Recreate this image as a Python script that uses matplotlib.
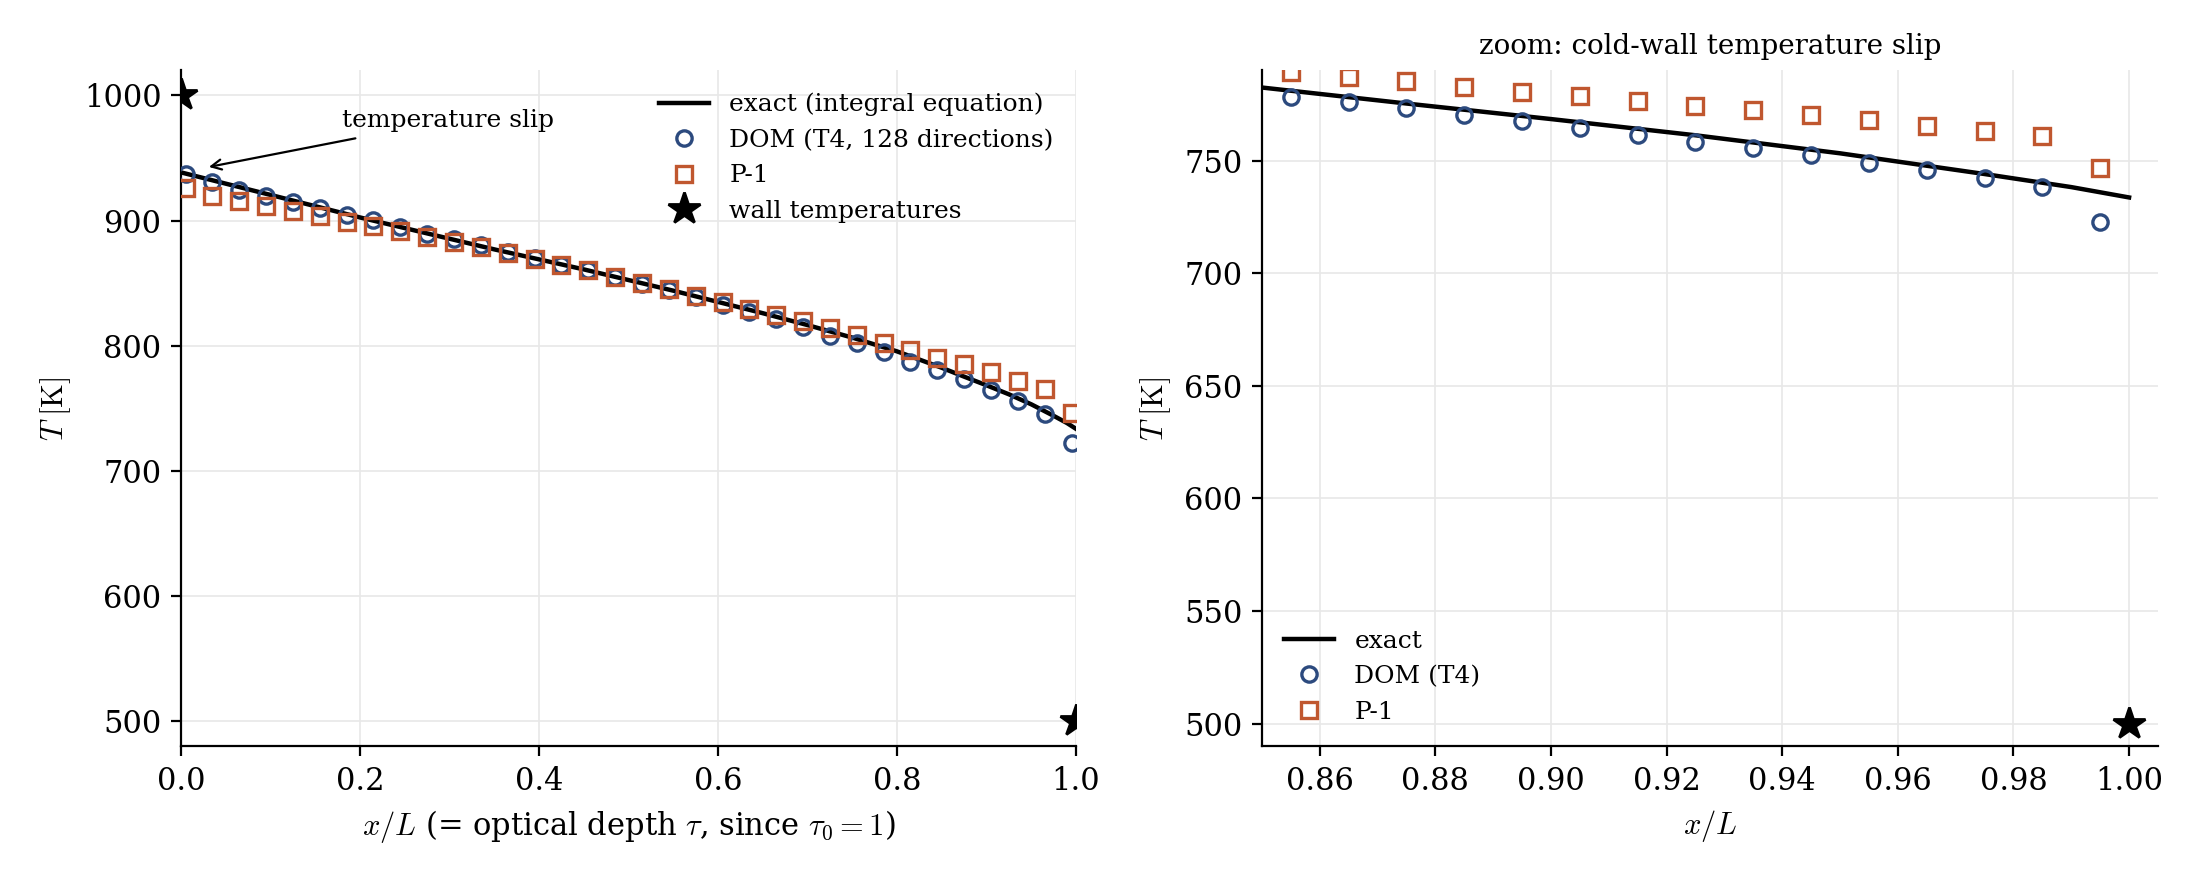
import matplotlib
matplotlib.use("Agg")
import matplotlib.pyplot as plt

plt.rcParams['font.family'] = ['DejaVu Serif']
plt.rcParams['mathtext.fontset'] = 'cm'

# ---------------- data ----------------
# exact solution (integral equation)
x_exact = [0.00, 0.05, 0.10, 0.15, 0.20, 0.25, 0.30, 0.35, 0.40, 0.45, 0.50,
           0.55, 0.60, 0.65, 0.70, 0.75, 0.80, 0.85, 0.875, 0.90, 0.925,
           0.95, 0.975, 0.99, 1.00]
T_exact = [938.5, 929.5, 920.5, 911.5, 902.5, 894.0, 885.5, 877.0, 869.0,
           861.0, 852.5, 844.0, 835.0, 826.0, 816.5, 806.5, 795.5, 782.4,
           775.3, 768.4, 761.2, 753.2, 744.0, 738.2, 733.6]

# full-domain markers (every third cell centre)
x_cells = [0.005, 0.035, 0.065, 0.095, 0.125, 0.155, 0.185, 0.215, 0.245,
           0.275, 0.305, 0.335, 0.365, 0.395, 0.425, 0.455, 0.485, 0.515,
           0.545, 0.575, 0.605, 0.635, 0.665, 0.695, 0.725, 0.755, 0.785,
           0.815, 0.845, 0.875, 0.905, 0.935, 0.965, 0.995]
T_dom = [937.4, 930.7, 924.8, 920.0, 915.2, 910.2, 904.8, 900.3, 894.7,
         889.4, 885.4, 880.6, 875.0, 869.8, 864.8, 860.2, 855.0, 849.6,
         844.6, 838.7, 832.8, 826.7, 821.2, 814.7, 808.0, 801.8, 794.7,
         787.2, 780.6, 773.2, 764.6, 755.5, 745.6, 722.6]
T_p1 = [925.9, 920.0, 916.0, 912.0, 908.0, 904.0, 899.2, 895.5, 891.5,
        887.2, 883.2, 878.7, 873.9, 869.4, 864.6, 860.2, 855.3, 850.1,
        845.2, 840.0, 835.0, 829.7, 824.7, 819.4, 814.0, 808.3, 802.2,
        796.6, 789.9, 785.1, 778.7, 772.2, 765.5, 746.6]

# zoom-panel markers (every cell near the cold wall)
x_zoom = [0.855, 0.865, 0.875, 0.885, 0.895, 0.905, 0.915, 0.925, 0.935,
          0.945, 0.955, 0.965, 0.975, 0.985, 0.995]
T_dom_zoom = [778.4, 775.9, 773.2, 770.4, 767.4, 764.6, 761.5, 758.4, 755.5,
              752.4, 749.1, 745.6, 742.1, 738.3, 722.6]
T_p1_zoom = [789.1, 787.1, 785.1, 782.8, 780.6, 778.7, 776.6, 774.4, 772.2,
             770.0, 767.8, 765.5, 763.3, 760.7, 746.6]

x_walls = [0.0, 1.0]
T_walls = [1000.0, 500.0]

# ---------------- style ----------------
C_DOM = '#2c4a7e'
C_P1 = '#c0572f'
GRID = dict(color='#e8e8e8', linewidth=0.6)

fig = plt.figure(figsize=(11, 4.4), dpi=200)
ax1 = fig.add_axes([0.0823, 0.152, 0.4068, 0.768])
ax2 = fig.add_axes([0.5736, 0.152, 0.4073, 0.768])

for ax in (ax1, ax2):
    ax.spines['top'].set_visible(False)
    ax.spines['right'].set_visible(False)
    ax.grid(True, **GRID)
    ax.set_axisbelow(True)
    ax.tick_params(labelsize=11)

MK = dict(ls='none', ms=5.5, mfc='none', mew=1.2, zorder=4)

# left panel
ax1.plot(x_exact, T_exact, color='black', lw=1.6, label='exact (integral equation)', zorder=3)
ax1.plot(x_cells, T_dom, marker='o', mec=C_DOM, label='DOM (T4, 128 directions)', **MK)
ax1.plot(x_cells, T_p1, marker='s', mec=C_P1, label='P-1', **MK)
ax1.plot(x_walls, T_walls, ls='none', marker='*', ms=12, color='black',
         label='wall temperatures', zorder=5)
ax1.set_xlim(0, 1)
ax1.set_ylim(480, 1020)
ax1.set_yticks([500, 600, 700, 800, 900, 1000])
ax1.set_xticks([0.0, 0.2, 0.4, 0.6, 0.8, 1.0])
ax1.set_xlabel(r'$x/L$ (= optical depth $\tau$, since $\tau_0=1$)', fontsize=11)
ax1.set_ylabel(r'$T\;[\mathrm{K}]$', fontsize=11)
ax1.annotate('temperature slip', xy=(0.025, 942), xytext=(0.18, 975),
             fontsize=9, arrowprops=dict(arrowstyle='->', color='black', lw=0.8))
ax1.legend(loc='upper right', frameon=False, fontsize=9)

# right panel
ax2.plot(x_exact, T_exact, color='black', lw=1.6, label='exact', zorder=3)
ax2.plot(x_zoom, T_dom_zoom, marker='o', mec=C_DOM, label='DOM (T4)', **MK)
ax2.plot(x_zoom, T_p1_zoom, marker='s', mec=C_P1, label='P-1', **MK)
ax2.plot(x_walls, T_walls, ls='none', marker='*', ms=12, color='black', zorder=5)
ax2.set_xlim(0.85, 1.005)
ax2.set_ylim(490, 790)
ax2.set_xticks([0.86, 0.88, 0.90, 0.92, 0.94, 0.96, 0.98, 1.00])
ax2.set_yticks([500, 550, 600, 650, 700, 750])
ax2.set_xlabel(r'$x/L$', fontsize=11)
ax2.set_ylabel(r'$T\;[\mathrm{K}]$', fontsize=11)
ax2.set_title('zoom: cold-wall temperature slip', fontsize=10)
ax2.legend(loc='lower left', frameon=False, fontsize=9)

fig.savefig('out.png', dpi=200)
